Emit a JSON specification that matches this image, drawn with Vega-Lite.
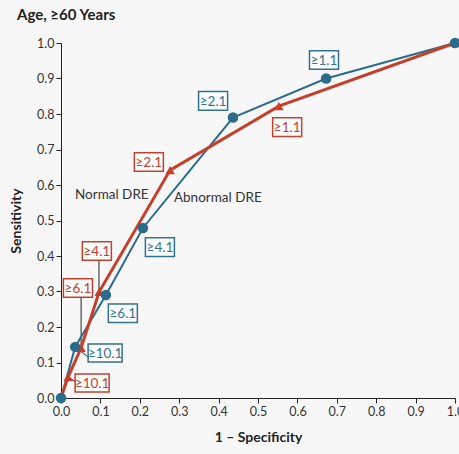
{
  "$schema": "https://vega.github.io/schema/vega-lite/v6.json",
  "width": 394,
  "height": 355,
  "autosize": {"type": "none"},
  "padding": {"left": 61, "top": 43, "right": 4, "bottom": 56},
  "background": "#f7f7f7",
  "title": {
    "text": "Age, ≥60 Years",
    "anchor": "start",
    "frame": "group",
    "dx": -44,
    "offset": 14,
    "font": "Lato",
    "fontSize": 15,
    "fontWeight": "bold",
    "color": "#222"
  },
  "config": {
    "view": {"stroke": null},
    "axis": {
      "grid": false,
      "domainColor": "#222",
      "tickColor": "#222",
      "tickSize": 5,
      "labelOverlap": false,
      "labelFont": "Lato",
      "labelFontSize": 12.5,
      "labelColor": "#333",
      "titleFont": "Lato",
      "titleFontSize": 14,
      "titleFontWeight": "bold",
      "titleColor": "#222"
    },
    "axisX": {"values": [0, 0.1, 0.2, 0.3, 0.4, 0.5, 0.6, 0.7, 0.8, 0.9, 1]},
    "axisY": {"values": [0, 0.1, 0.2, 0.3, 0.4, 0.5, 0.6, 0.7, 0.8, 0.9, 1]}
  },
  "datasets": {
    "curves": [
      {"test": "Normal DRE", "cutoff": "0", "fpr": 0.0, "sens": 0.0},
      {"test": "Normal DRE", "cutoff": "≥10.1", "fpr": 0.018, "sens": 0.059},
      {"test": "Normal DRE", "cutoff": "≥6.1", "fpr": 0.051, "sens": 0.141},
      {"test": "Normal DRE", "cutoff": "≥4.1", "fpr": 0.097, "sens": 0.299},
      {"test": "Normal DRE", "cutoff": "≥2.1", "fpr": 0.277, "sens": 0.642},
      {"test": "Normal DRE", "cutoff": "≥1.1", "fpr": 0.553, "sens": 0.822},
      {"test": "Normal DRE", "cutoff": "all", "fpr": 1.0, "sens": 1.0},
      {"test": "Abnormal DRE", "cutoff": "0", "fpr": 0.0, "sens": 0.0},
      {"test": "Abnormal DRE", "cutoff": "≥10.1", "fpr": 0.036, "sens": 0.144},
      {"test": "Abnormal DRE", "cutoff": "≥6.1", "fpr": 0.114, "sens": 0.29},
      {"test": "Abnormal DRE", "cutoff": "≥4.1", "fpr": 0.208, "sens": 0.479},
      {"test": "Abnormal DRE", "cutoff": "≥2.1", "fpr": 0.4365, "sens": 0.79},
      {"test": "Abnormal DRE", "cutoff": "≥1.1", "fpr": 0.673, "sens": 0.9},
      {"test": "Abnormal DRE", "cutoff": "all", "fpr": 1.0, "sens": 1.0}
    ],
    "labels": [
      {"test": "Abnormal DRE", "lab": "≥1.1", "lx": 0.6675, "ly": 0.952},
      {"test": "Abnormal DRE", "lab": "≥2.1", "lx": 0.386, "ly": 0.837},
      {"test": "Abnormal DRE", "lab": "≥4.1", "lx": 0.251, "ly": 0.425},
      {"test": "Abnormal DRE", "lab": "≥6.1", "lx": 0.157, "ly": 0.239},
      {"test": "Abnormal DRE", "lab": "≥10.1", "lx": 0.112, "ly": 0.127},
      {"test": "Normal DRE", "lab": "≥1.1", "lx": 0.574, "ly": 0.763},
      {"test": "Normal DRE", "lab": "≥2.1", "lx": 0.223, "ly": 0.665},
      {"test": "Normal DRE", "lab": "≥4.1", "lx": 0.091, "ly": 0.414},
      {"test": "Normal DRE", "lab": "≥6.1", "lx": 0.043, "ly": 0.31},
      {"test": "Normal DRE", "lab": "≥10.1", "lx": 0.079, "ly": 0.042}
    ],
    "leaders": [
      {"x1": 0.0964, "y1": 0.392, "x2": 0.0964, "y2": 0.299},
      {"x1": 0.051, "y1": 0.285, "x2": 0.051, "y2": 0.141},
      {"x1": 0.041, "y1": 0.141, "x2": 0.069, "y2": 0.115},
      {"x1": 0.018, "y1": 0.059, "x2": 0.038, "y2": 0.045}
    ],
    "notes": [
      {"note": "Normal DRE", "nx": 0.129, "ny": 0.572},
      {"note": "Abnormal DRE", "nx": 0.398, "ny": 0.563}
    ]
  },
  "layer": [
    {
      "data": {"name": "leaders"},
      "mark": {"type": "rule", "color": "#222", "strokeWidth": 1},
      "encoding": {
        "x": {"field": "x1", "type": "quantitative", "scale": {"domain": [0, 1], "nice": false},
          "axis": {"tickCount": 11, "format": ".1f", "labelFlush": false, "title": "1 – Specificity", "titlePadding": 13}},
        "y": {"field": "y1", "type": "quantitative", "scale": {"domain": [0, 1], "nice": false},
          "axis": {"tickCount": 11, "format": ".1f", "labelFlush": false, "title": "Sensitivity", "titlePadding": 13}},
        "x2": {"field": "x2"},
        "y2": {"field": "y2"}
      }
    },
    {
      "data": {"name": "curves"},
      "transform": [{"filter": "datum.test === 'Abnormal DRE'"}],
      "mark": {"type": "line", "color": "#2b6c8c", "strokeWidth": 2},
      "encoding": {
        "x": {"field": "fpr", "type": "quantitative"},
        "y": {"field": "sens", "type": "quantitative"},
        "order": {"field": "fpr", "type": "quantitative"}
      }
    },
    {
      "data": {"name": "curves"},
      "transform": [{"filter": "datum.test === 'Normal DRE'"}],
      "mark": {"type": "line", "color": "#c5402c", "strokeWidth": 3},
      "encoding": {
        "x": {"field": "fpr", "type": "quantitative"},
        "y": {"field": "sens", "type": "quantitative"},
        "order": {"field": "fpr", "type": "quantitative"}
      }
    },
    {
      "data": {"name": "curves"},
      "transform": [{"filter": "datum.test === 'Normal DRE' && datum.cutoff !== '0'"}],
      "mark": {"type": "point", "shape": "triangle-up", "filled": true, "color": "#c5402c", "size": 90, "opacity": 1},
      "encoding": {
        "x": {"field": "fpr", "type": "quantitative"},
        "y": {"field": "sens", "type": "quantitative"}
      }
    },
    {
      "data": {"name": "curves"},
      "transform": [{"filter": "datum.test === 'Abnormal DRE'"}],
      "mark": {"type": "point", "shape": "circle", "filled": true, "color": "#2b6c8c", "size": 110, "opacity": 1},
      "encoding": {
        "x": {"field": "fpr", "type": "quantitative"},
        "y": {"field": "sens", "type": "quantitative"}
      }
    },
    {
      "data": {"name": "labels"},
      "transform": [{"filter": "datum.lab !== '≥10.1'"}],
      "mark": {"type": "point", "shape": "M-1,-0.64H1V0.64H-1Z", "filled": false, "fill": "#ffffff", "fillOpacity": 1, "strokeWidth": 1.5, "size": 841, "opacity": 1},
      "encoding": {
        "x": {"field": "lx", "type": "quantitative"},
        "y": {"field": "ly", "type": "quantitative"},
        "stroke": {"field": "test", "type": "nominal", "scale": {"domain": ["Normal DRE", "Abnormal DRE"], "range": ["#c5402c", "#2f7391"]}, "legend": null}
      }
    },
    {
      "data": {"name": "labels"},
      "transform": [{"filter": "datum.lab === '≥10.1'"}],
      "mark": {"type": "point", "shape": "M-1,-0.53H1V0.53H-1Z", "filled": false, "fill": "#ffffff", "fillOpacity": 1, "strokeWidth": 1.5, "size": 1156, "opacity": 1},
      "encoding": {
        "x": {"field": "lx", "type": "quantitative"},
        "y": {"field": "ly", "type": "quantitative"},
        "stroke": {"field": "test", "type": "nominal", "legend": null}
      }
    },
    {
      "data": {"name": "labels"},
      "mark": {"type": "text", "font": "Lato", "fontSize": 13.5, "align": "center", "baseline": "middle", "dy": 1},
      "encoding": {
        "x": {"field": "lx", "type": "quantitative"},
        "y": {"field": "ly", "type": "quantitative"},
        "text": {"field": "lab"},
        "color": {"field": "test", "type": "nominal", "scale": {"domain": ["Normal DRE", "Abnormal DRE"], "range": ["#c5402c", "#2f7391"]}, "legend": null}
      }
    },
    {
      "data": {"name": "notes"},
      "mark": {"type": "text", "font": "Lato", "fontSize": 13.5, "align": "center", "baseline": "middle", "color": "#333"},
      "encoding": {
        "x": {"field": "nx", "type": "quantitative"},
        "y": {"field": "ny", "type": "quantitative"},
        "text": {"field": "note"}
      }
    }
  ]
}
